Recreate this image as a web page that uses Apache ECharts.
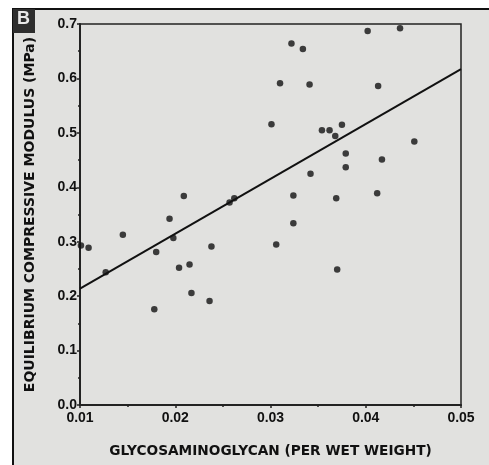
<!DOCTYPE html>
<html>
<head>
<meta charset="utf-8">
<script src="https://cdn.jsdelivr.net/npm/echarts@6/dist/echarts.min.js"></script>
<style>
html,body{margin:0;padding:0;background:#fff;}
#c{width:489px;height:465px;}
</style>
</head>
<body>
<div id="c"></div>
<script>
var xTicks = [0.01, 0.02, 0.03, 0.04, 0.05];
var yTicks = [0.0, 0.1, 0.2, 0.3, 0.4, 0.5, 0.6, 0.7];
var gag = [0.0101,0.0109,0.0127,0.0145,0.0178,0.0180,0.0194,0.0198,0.0204,0.0209,0.0215,0.0217,0.0236,0.0238,0.0257,0.0262,0.0301,0.0306,0.0310,0.0322,0.0324,0.0324,0.0334,0.0341,0.0342,0.0354,0.0362,0.0368,0.0369,0.0370,0.0375,0.0379,0.0379,0.0402,0.0412,0.0413,0.0417,0.0436,0.0451];
var modulus = [0.293,0.289,0.244,0.313,0.176,0.281,0.342,0.307,0.252,0.384,0.258,0.206,0.191,0.291,0.372,0.380,0.516,0.295,0.591,0.664,0.385,0.334,0.654,0.589,0.425,0.505,0.505,0.494,0.380,0.249,0.515,0.462,0.437,0.687,0.389,0.586,0.451,0.692,0.484];
var fitX = [0.01, 0.05];
var fitY = [0.214, 0.617];

var pts = gag.map(function(x,i){return [x, modulus[i]];});
var fit = fitX.map(function(x,i){return [x, fitY[i]];});

var chart = echarts.init(document.getElementById('c'));
var lab = {color:'#111', fontFamily:'Liberation Sans, Arial, sans-serif', fontWeight:'bold'};
chart.setOption({
  backgroundColor:'#fff',
  animation:false,
  graphic:[
    {type:'rect', z:-10, shape:{x:13,y:9,width:480,height:460}, style:{fill:'#e1e1df', stroke:'#111', lineWidth:2}},
    {type:'rect', z:-5, shape:{x:13,y:9,width:22,height:24}, style:{fill:'#2e2e2e'}},
    {type:'text', z:-4, left:17, top:10, style:{text:'B', fill:'#e8e8e8', font:'bold 18px Liberation Sans, Arial, sans-serif'}}
  ],
  grid:{left:80, right:28, top:24, bottom:60, show:true, borderColor:'#222', borderWidth:1.5, backgroundColor:'transparent'},
  xAxis:{
    type:'value', min:0.01, max:0.05, interval:0.01,
    name:'GLYCOSAMINOGLYCAN (PER WET WEIGHT)', nameLocation:'middle', nameGap:39,
    nameTextStyle:{color:'#111', fontFamily:'DejaVu Sans, sans-serif', fontWeight:'bold', fontSize:13.7},
    axisLine:{onZero:false, lineStyle:{color:'#222', width:2}},
    axisTick:{show:true, length:3, lineStyle:{color:'#222', width:1.5}},
    minorTick:{show:true, splitNumber:2, length:2, lineStyle:{color:'#222', width:1.5}},
    splitLine:{show:false},
    axisLabel:Object.assign({fontSize:14, margin:6, formatter:function(v){return v.toFixed(2);}}, lab)
  },
  yAxis:{
    type:'value', min:0, max:0.7, interval:0.1,
    name:'EQUILIBRIUM COMPRESSIVE MODULUS (MPa)', nameLocation:'middle', nameGap:43,
    nameTextStyle:{color:'#111', fontFamily:'DejaVu Sans, sans-serif', fontWeight:'bold', fontSize:14},
    axisLine:{onZero:false, lineStyle:{color:'#222', width:2}},
    axisTick:{show:true, length:3, lineStyle:{color:'#222', width:1.5}},
    minorTick:{show:true, splitNumber:2, length:2, lineStyle:{color:'#222', width:1.5}},
    splitLine:{show:false},
    axisLabel:Object.assign({fontSize:14, margin:3, formatter:function(v){return v.toFixed(1);}}, lab)
  },
  series:[
    {type:'line', data:fit, symbol:'none', lineStyle:{color:'#111', width:2}, z:2},
    {type:'scatter', data:pts, symbol:'circle', symbolSize:6.5, itemStyle:{color:'#111'}, z:3}
  ]
});
</script>
</body>
</html>
